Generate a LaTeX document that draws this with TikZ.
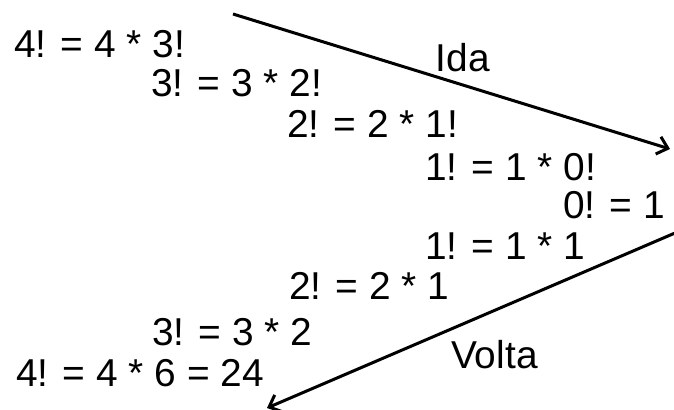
\documentclass[tikz,border=0pt]{standalone}
\usepackage{fontspec}
\setmainfont{Liberation Sans}
\usepackage{tikz}
\usetikzlibrary{arrows.meta}
\tikzset{
  eqn/.style={anchor=base west, inner sep=0pt, font=\fontsize{39}{45}\selectfont},
  flow/.style={-{Straight Barb[length=10bp, width=18bp, line width=3bp]}, line width=3bp, draw=black},
  lbl/.style={eqn},
}
\begin{document}
\begin{tikzpicture}[x=1bp, y=-1bp]
  \useasboundingbox (0,0) rectangle (674,409);
  % chamadas (ida)
  \node[eqn] (f4a) at (14,57)  {4! = 4 * 3!};
  \node[eqn] (f3a) at (151,96) {3! = 3 * 2!};
  \node[eqn] (f2a) at (287,137) {2! = 2 * 1!};
  \node[eqn] (f1a) at (425,180) {1! = 1 * 0!};
  \node[eqn] (f0)  at (563,218) {0! = 1};
  % retornos (volta)
  \node[eqn] (f1b) at (425,259) {1! = 1 * 1};
  \node[eqn] (f2b) at (289,299) {2! = 2 * 1};
  \node[eqn] (f3b) at (152,345) {3! = 3 * 2};
  \node[eqn] (f4b) at (16,386)  {4! = 4 * 6 = 24};
  \node[lbl] (ida)   at (435.5,71) {Ida};
  \node[lbl] (volta) at (451,368)  {Volta};
  \coordinate (idaS) at (233,14);
  \coordinate (idaE) at (670,149);
  \coordinate (voltaS) at (675,233);
  \coordinate (voltaE) at (267,408);
  \draw[flow] (idaS) -- (idaE);
  \draw[flow] (voltaS) -- (voltaE);
\end{tikzpicture}
\end{document}
